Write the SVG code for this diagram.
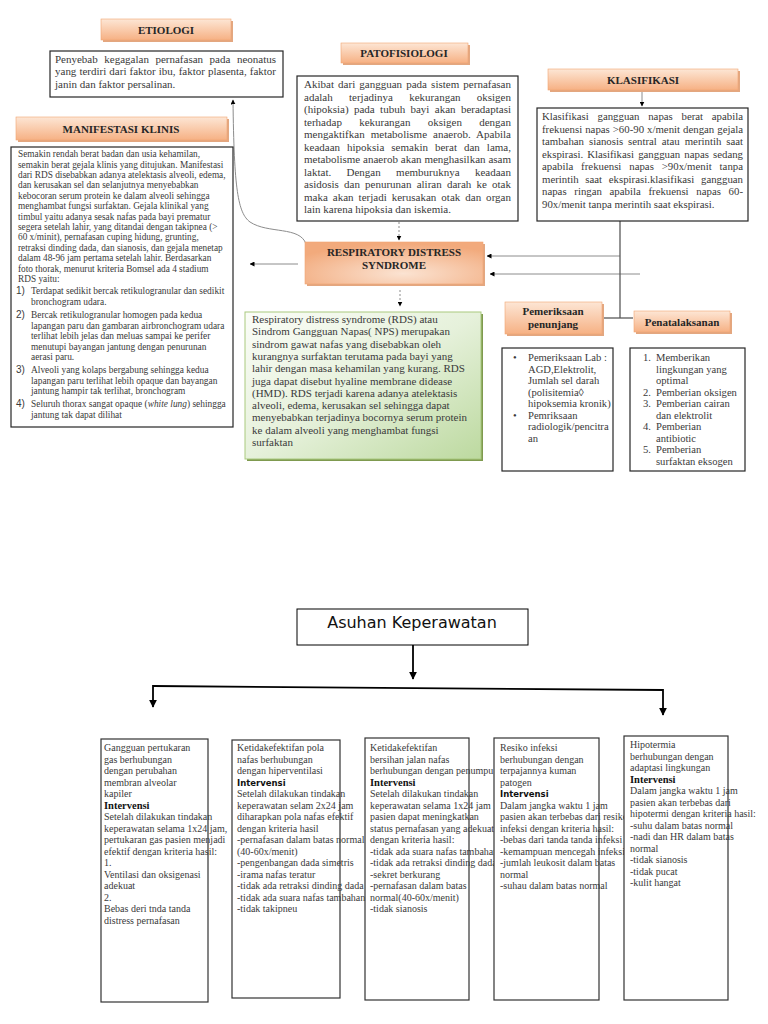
<svg xmlns="http://www.w3.org/2000/svg" width="768" height="1024" viewBox="0 0 768 1024">
<defs>
<linearGradient id="hdr" x1="0" y1="0" x2="0" y2="1">
<stop offset="0" stop-color="#fde6d5"/>
<stop offset="1" stop-color="#f6b184"/>
</linearGradient>
<radialGradient id="rds" cx="0.55" cy="0.75" r="0.7">
<stop offset="0" stop-color="#fbe3d2"/>
<stop offset="1" stop-color="#f2aa7c"/>
</radialGradient>
<linearGradient id="grn" x1="0" y1="0" x2="1" y2="1">
<stop offset="0" stop-color="#fbfdf8"/>
<stop offset="0.5" stop-color="#e6f1db"/>
<stop offset="1" stop-color="#bcd99f"/>
</linearGradient>
<clipPath id="c3"><rect x="360" y="730" width="134" height="280"/></clipPath>
<clipPath id="c4"><rect x="490" y="730" width="134" height="280"/></clipPath>
<marker id="ah" viewBox="0 0 10 10" refX="9" refY="5" markerWidth="5" markerHeight="5" markerUnits="userSpaceOnUse" orient="auto">
<path d="M0,0 L10,5 L0,10 z" fill="#000"/>
</marker>
<marker id="ah2" viewBox="0 0 10 10" refX="9" refY="5" markerWidth="8" markerHeight="8" markerUnits="userSpaceOnUse" orient="auto">
<path d="M0,0 L10,5 L0,10 z" fill="#000"/>
</marker>
<style>
.hs{fill:#d98a55;opacity:.75}
.h{fill:url(#hdr);stroke:#f0a572;stroke-width:.6}
.ht{font-family:"Liberation Serif",serif;font-weight:bold;font-size:11px;fill:#262626;text-anchor:middle}
.box{fill:#fff;stroke:#262626;stroke-width:1.2}
.t{font-family:"Liberation Serif",serif;font-size:11px;fill:#3a3a3a}
.tk{font-family:"Liberation Serif",serif;font-size:10.8px;fill:#3a3a3a}
.tp{font-family:"Liberation Serif",serif;font-size:10.6px;fill:#3a3a3a}
.ts{font-family:"Liberation Serif",serif;font-size:9.3px;fill:#3a3a3a}
.tl{font-family:"Liberation Serif",serif;font-size:9.4px;fill:#3a3a3a}
.n{font-family:"Liberation Sans",sans-serif;font-size:10px;fill:#3a3a3a}
.g{fill:none;stroke:#8c8c8c;stroke-width:1}
.gd{fill:none;stroke:#8c8c8c;stroke-width:1;stroke-dasharray:2 2}
.k{fill:none;stroke:#000;stroke-width:1.8}
.bt{font-family:"Liberation Serif",serif;font-size:10px;fill:#3a3a3a}
.bb{font-family:"Liberation Serif",serif;font-size:10.5px;font-weight:bold;fill:#111}
.bsb{font-family:"DejaVu Sans",sans-serif;font-size:8.5px;font-weight:bold;fill:#111}
.bbox{fill:#fff;stroke:#333;stroke-width:1.2}
</style>
</defs>
<rect width="768" height="1024" fill="#fff"/>

<g id="connectors">
<path class="g" d="M306,244 C300,226 268,234 250,222 C238,213 234,190 233,100" marker-end="url(#ah)"/>
<line class="gd" x1="399" y1="222" x2="399" y2="240" marker-end="url(#ah)"/>
<line class="gd" x1="400" y1="290" x2="400" y2="306" marker-end="url(#ah)"/>
<line class="g" x1="298" y1="264" x2="250" y2="264" marker-end="url(#ah)"/>
<line class="g" x1="620" y1="256" x2="487" y2="256" marker-end="url(#ah)"/>
<line class="g" x1="640" y1="274" x2="490" y2="274" marker-end="url(#ah)"/>
<line class="g" x1="642" y1="92" x2="642" y2="106" marker-end="url(#ah)"/>
<line x1="620" y1="221" x2="620" y2="318" stroke="#595959" stroke-width="1.3"/>
<line x1="604" y1="318" x2="633" y2="318" stroke="#595959" stroke-width="1.3"/>
<line class="k" x1="413" y1="645" x2="413" y2="679" marker-end="url(#ah2)"/>
<polyline class="k" points="153,686 663,690"/>
<line class="k" x1="153" y1="685" x2="153" y2="707" marker-end="url(#ah2)"/>
<line class="k" x1="663" y1="689" x2="663" y2="715" marker-end="url(#ah2)"/>
</g>

<g id="etiologi-header">
<rect class="hs" x="103" y="21" width="130" height="21"/>
<rect class="h" x="101" y="19" width="130" height="21"/>
<text class="ht" x="166" y="34">ETIOLOGI</text>
</g>
<g id="etiologi">
<rect class="box" x="50" y="51" width="233" height="46"/>
<text class="t" x="55" y="63" word-spacing="3.8" textLength="221" lengthAdjust="spacing">Penyebab kegagalan pernafasan pada neonatus</text>
<text class="t" x="55" y="75" word-spacing="0.3" textLength="221" lengthAdjust="spacing">yang terdiri dari faktor ibu, faktor plasenta, faktor</text>
<text class="t" x="55" y="87.5">janin dan faktor persalinan.</text>
</g>

<g id="manifestasi-header">
<rect class="hs" x="18" y="119" width="211" height="23"/>
<rect class="h" x="16" y="117" width="211" height="23"/>
<text class="ht" x="121" y="133">MANIFESTASI KLINIS</text>
</g>
<g id="manifestasi">
<rect class="box" x="11" y="147" width="222" height="280"/>
<text class="ts" x="18" y="157">Semakin rendah berat badan dan usia kehamilan,</text>
<text class="ts" x="18" y="167.5">semakin berat gejala klinis yang ditujukan. Manifestasi</text>
<text class="ts" x="18" y="178">dari RDS disebabkan adanya atelektasis alveoli, edema,</text>
<text class="ts" x="18" y="188.4">dan kerusakan sel dan selanjutnya menyebabkan</text>
<text class="ts" x="18" y="198.8">kebocoran serum protein ke dalam alveoli sehingga</text>
<text class="ts" x="18" y="209.2">menghambat fungsi surfaktan. Gejala klinikal yang</text>
<text class="ts" x="18" y="219.6">timbul yaitu adanya sesak nafas pada bayi prematur</text>
<text class="ts" x="18" y="230">segera setelah lahir, yang ditandai dengan takipnea (&gt;</text>
<text class="ts" x="18" y="240.4">60 x/minit), pernafasan cuping hidung, grunting,</text>
<text class="ts" x="18" y="250.8">retraksi dinding dada, dan sianosis, dan gejala menetap</text>
<text class="ts" x="18" y="261.2">dalam 48-96 jam pertama setelah lahir. Berdasarkan</text>
<text class="ts" x="18" y="271.6">foto thorak, menurut kriteria Bomsel ada 4 stadium</text>
<text class="ts" x="18" y="282">RDS yaitu:</text>
<text class="n" x="16" y="294">1)</text>
<text class="tl" x="31" y="294">Terdapat sedikit bercak retikulogranular dan sedikit</text>
<text class="tl" x="31" y="304.5">bronchogram udara.</text>
<text class="n" x="16" y="318">2)</text>
<text class="tl" x="31" y="318">Bercak retikulogranular homogen pada kedua</text>
<text class="tl" x="31" y="328.5">lapangan paru dan gambaran airbronchogram udara</text>
<text class="tl" x="31" y="339">terlihat lebih jelas dan meluas sampai ke perifer</text>
<text class="tl" x="31" y="349.5">menutupi bayangan jantung dengan penurunan</text>
<text class="tl" x="31" y="360">aerasi paru.</text>
<text class="n" x="16" y="373">3)</text>
<text class="tl" x="31" y="373">Alveoli yang kolaps bergabung sehingga kedua</text>
<text class="tl" x="31" y="383.5">lapangan paru terlihat lebih opaque dan bayangan</text>
<text class="tl" x="31" y="394">jantung hampir tak terlihat, bronchogram</text>
<text class="n" x="16" y="407">4)</text>
<text class="tl" x="31" y="407">Seluruh thorax sangat opaque (<tspan font-style="italic">white lung</tspan>) sehingga</text>
<text class="tl" x="31" y="417.5">jantung tak dapat dilihat</text>
</g>

<g id="patofisiologi-header">
<rect class="hs" x="343" y="45" width="127" height="20"/>
<rect class="h" x="341" y="43" width="127" height="20"/>
<text class="ht" x="404" y="57">PATOFISIOLOGI</text>
</g>
<g id="patofisiologi">
<rect class="box" x="297" y="76" width="221" height="145"/>
<text class="t" x="304" y="88" word-spacing="1.38" textLength="207" lengthAdjust="spacing">Akibat dari gangguan pada sistem pernafasan</text>
<text class="t" x="304" y="100.5" word-spacing="13.5" textLength="207" lengthAdjust="spacing">adalah terjadinya kekurangan oksigen</text>
<text class="t" x="304" y="113" word-spacing="2.6" textLength="207" lengthAdjust="spacing">(hipoksia) pada tubuh bayi akan beradaptasi</text>
<text class="t" x="304" y="125.5" word-spacing="14.5" textLength="207" lengthAdjust="spacing">terhadap kekurangan oksigen dengan</text>
<text class="t" x="304" y="138" word-spacing="3.2" textLength="207" lengthAdjust="spacing">mengaktifkan metabolisme anaerob. Apabila</text>
<text class="t" x="304" y="150.5" word-spacing="4.25" textLength="207" lengthAdjust="spacing">keadaan hipoksia semakin berat dan lama,</text>
<text class="t" x="304" y="163" word-spacing="0.12" textLength="207" lengthAdjust="spacing">metabolisme anaerob akan menghasilkan asam</text>
<text class="t" x="304" y="175.5" word-spacing="12.6" textLength="207" lengthAdjust="spacing">laktat. Dengan memburuknya keadaan</text>
<text class="t" x="304" y="188" word-spacing="2.4" textLength="207" lengthAdjust="spacing">asidosis dan penurunan aliran darah ke otak</text>
<text class="t" x="304" y="200.5" word-spacing="2.2" textLength="207" lengthAdjust="spacing">maka akan terjadi kerusakan otak dan organ</text>
<text class="t" x="304" y="213">lain karena hipoksia dan iskemia.</text>
</g>

<g id="klasifikasi-header">
<rect class="hs" x="550" y="71" width="190" height="21"/>
<rect class="h" x="548" y="69" width="190" height="21"/>
<text class="ht" x="643" y="84">KLASIFIKASI</text>
</g>
<g id="klasifikasi">
<rect class="box" x="537" y="108" width="211" height="113"/>
<text class="tk" x="542" y="120" word-spacing="6.0" textLength="201" lengthAdjust="spacing">Klasifikasi gangguan napas berat apabila</text>
<text class="tk" x="542" y="132.5" word-spacing="0.29" textLength="201" lengthAdjust="spacing">frekuensi napas &gt;60-90 x/menit dengan gejala</text>
<text class="tk" x="542" y="145" word-spacing="2.2" textLength="201" lengthAdjust="spacing">tambahan  sianosis sentral atau merintih saat</text>
<text class="tk" x="542" y="157.5" word-spacing="1.43" textLength="201" lengthAdjust="spacing">ekspirasi. Klasifikasi gangguan napas sedang</text>
<text class="tk" x="542" y="170" word-spacing="5.2" textLength="201" lengthAdjust="spacing">apabila frekuensi napas &gt;90x/menit tanpa</text>
<text class="tk" x="542" y="182.5" word-spacing="4.0" textLength="201" lengthAdjust="spacing">merintih saat ekspirasi.klasifikasi gangguan</text>
<text class="tk" x="542" y="195" word-spacing="5.0" textLength="201" lengthAdjust="spacing">napas  ringan apabila frekuensi napas 60-</text>
<text class="tk" x="542" y="207.5">90x/menit tanpa merintih saat ekspirasi.</text>
</g>

<g id="rds-header">
<rect class="hs" x="307" y="244" width="178" height="42"/>
<rect x="305" y="242" width="178" height="42" fill="url(#rds)" stroke="#f0a572" stroke-width=".6"/>
<text class="ht" x="394" y="256">RESPIRATORY DISTRESS</text>
<text class="ht" x="394" y="269">SYNDROME</text>
</g>

<g id="rds-definisi">
<rect x="247" y="314" width="236" height="147" fill="#7f9a4f"/>
<rect x="245" y="312" width="236" height="147" fill="url(#grn)" stroke="#a9c97e" stroke-width="1"/>
<text class="t" x="252" y="323" font-size="11.3">Respiratory distress syndrome (RDS) atau</text>
<text class="t" x="252" y="335.3" font-size="11.3">Sindrom Gangguan Napas( NPS) merupakan</text>
<text class="t" x="252" y="347.6" font-size="11.3">sindrom gawat nafas yang disebabkan oleh</text>
<text class="t" x="252" y="359.9" font-size="11.3">kurangnya surfaktan terutama pada bayi yang</text>
<text class="t" x="252" y="372.2" font-size="11.3">lahir dengan masa kehamilan yang kurang. RDS</text>
<text class="t" x="252" y="384.5" font-size="11.3">juga dapat disebut hyaline membrane didease</text>
<text class="t" x="252" y="396.8" font-size="11.3">(HMD). RDS terjadi karena adanya atelektasis</text>
<text class="t" x="252" y="409.1" font-size="11.3">alveoli, edema, kerusakan sel sehingga dapat</text>
<text class="t" x="252" y="421.4" font-size="11.3">menyebabkan terjadinya bocornya serum protein</text>
<text class="t" x="252" y="433.7" font-size="11.3">ke dalam alveoli yang menghambat fungsi</text>
<text class="t" x="252" y="446" font-size="11.3">surfaktan</text>
</g>

<g id="pemeriksaan-header">
<rect class="hs" x="507" y="304" width="97" height="32"/>
<rect class="h" x="505" y="302" width="97" height="32"/>
<text class="ht" x="553" y="315">Pemeriksaan</text>
<text class="ht" x="553" y="328">penunjang</text>
</g>
<g id="pemeriksaan">
<rect class="box" x="502" y="348" width="111" height="123"/>
<text class="tp" x="513" y="361">•</text>
<text class="tp" x="528" y="361">Pemeriksaan Lab :</text>
<text class="tp" x="528" y="372.5">AGD,Elektrolit,</text>
<text class="tp" x="528" y="384">Jumlah sel darah</text>
<text class="tp" x="528" y="395.5">(polisitemia◊</text>
<text class="tp" x="528" y="407">hipoksemia kronik)</text>
<text class="tp" x="513" y="418.5">•</text>
<text class="tp" x="528" y="418.5">Pemriksaan</text>
<text class="tp" x="528" y="430">radiologik/pencitra</text>
<text class="tp" x="528" y="441.5">an</text>
</g>

<g id="penatalaksanan-header">
<rect class="hs" x="636" y="313" width="96" height="21"/>
<rect class="h" x="634" y="311" width="96" height="21"/>
<text class="ht" x="682" y="326">Penatalaksanan</text>
</g>
<g id="penatalaksanan">
<rect class="box" x="630" y="348" width="115" height="123"/>
<text class="tp" x="643" y="361">1.</text>
<text class="tp" x="656" y="361">Memberikan</text>
<text class="tp" x="656" y="372.5">lingkungan yang</text>
<text class="tp" x="656" y="384">optimal</text>
<text class="tp" x="643" y="395.5">2.</text>
<text class="tp" x="656" y="395.5">Pemberian oksigen</text>
<text class="tp" x="643" y="407">3.</text>
<text class="tp" x="656" y="407">Pemberian cairan</text>
<text class="tp" x="656" y="418.5">dan elektrolit</text>
<text class="tp" x="643" y="430">4.</text>
<text class="tp" x="656" y="430">Pemberian</text>
<text class="tp" x="656" y="441.5">antibiotic</text>
<text class="tp" x="643" y="453">5.</text>
<text class="tp" x="656" y="453">Pemberian</text>
<text class="tp" x="656" y="464.5">surfaktan eksogen</text>
</g>

<g id="asuhan-keperawatan">
<rect x="297" y="609" width="231" height="36" fill="#fff" stroke="#000" stroke-width="1"/>
<text x="412" y="628" font-family="DejaVu Sans, sans-serif" font-size="16" fill="#111" text-anchor="middle">Asuhan Keperawatan</text>
</g>

<g id="dx1">
<rect class="bbox" x="101" y="739" width="107" height="263"/>
<text class="bt" x="104" y="751" font-size="10.5">Gangguan pertukaran</text>
<text class="bt" x="104" y="762.5" font-size="10.5">gas berhubungan</text>
<text class="bt" x="104" y="774" font-size="10.5">dengan perubahan</text>
<text class="bt" x="104" y="785.5" font-size="10.5">membran alveolar</text>
<text class="bt" x="104" y="797" font-size="10.5">kapiler</text>
<text class="bb" x="104" y="808.5">Intervensi</text>
<text class="bt" x="104" y="820" font-size="10.5">Setelah dilakukan tindakan</text>
<text class="bt" x="104" y="831.5" font-size="10.5">keperawatan selama 1x24 jam,</text>
<text class="bt" x="104" y="843" font-size="10.5">pertukaran gas pasien menjadi</text>
<text class="bt" x="104" y="854.5" font-size="10.5">efektif dengan kriteria hasil:</text>
<text class="bt" x="104" y="866" font-size="10.5">1.</text>
<text class="bt" x="104" y="877.5" font-size="10.5">Ventilasi dan oksigenasi</text>
<text class="bt" x="104" y="889" font-size="10.5">adekuat</text>
<text class="bt" x="104" y="900.5" font-size="10.5">2.</text>
<text class="bt" x="104" y="912" font-size="10.5">Bebas deri tnda tanda</text>
<text class="bt" x="104" y="923.5" font-size="10.5">distress pernafasan</text>
</g>

<g id="dx2">
<rect class="bbox" x="232" y="740" width="108" height="258"/>
<text class="bt" x="237" y="751" font-size="9.6">Ketidakefektifan pola</text>
<text class="bt" x="237" y="762.5" font-size="9.6">nafas berhubungan</text>
<text class="bt" x="237" y="774" font-size="9.6">dengan hiperventilasi</text>
<text class="bsb" x="237" y="785.5">Intervensi</text>
<text class="bt" x="237" y="797" font-size="9.6">Setelah dilakukan tindakan</text>
<text class="bt" x="237" y="808.5" font-size="9.6">keperawatan selam 2x24 jam</text>
<text class="bt" x="237" y="820" font-size="9.6">diharapkan pola nafas efektif</text>
<text class="bt" x="237" y="831.5" font-size="9.6">dengan kriteria hasil</text>
<text class="bt" x="237" y="843" font-size="9.6">-pernafasan dalam batas normal</text>
<text class="bt" x="237" y="854.5" font-size="9.6">(40-60x/menit)</text>
<text class="bt" x="237" y="866" font-size="9.6">-pengenbangan dada simetris</text>
<text class="bt" x="237" y="877.5" font-size="9.6">-irama nafas teratur</text>
<text class="bt" x="237" y="889" font-size="9.6">-tidak ada retraksi dinding dada</text>
<text class="bt" x="237" y="900.5" font-size="9.6">-tidak ada suara nafas tambahan</text>
<text class="bt" x="237" y="912" font-size="9.6">-tidak takipneu</text>
</g>

<g id="dx3">
<rect class="bbox" x="365" y="738" width="104" height="262" fill-opacity="0"/>
<g clip-path="url(#c3)">
<text class="bt" x="370" y="751">Ketidakefektifan</text>
<text class="bt" x="370" y="762.5">bersihan jalan nafas</text>
<text class="bt" x="370" y="774">berhubungan dengan penumpu</text>
<text class="bb" x="370" y="785.5">Intervensi</text>
<text class="bt" x="370" y="797">Setelah dilakukan tindakan</text>
<text class="bt" x="370" y="808.5">keperawatan selama 1x24 jam</text>
<text class="bt" x="370" y="820">pasien dapat meningkatkan</text>
<text class="bt" x="370" y="831.5">status pernafasan yang adekuat</text>
<text class="bt" x="370" y="843">dengan kriteria hasil:</text>
<text class="bt" x="370" y="854.5">-tidak ada suara nafas tambahan</text>
<text class="bt" x="370" y="866">-tidak ada retraksi dinding dada</text>
<text class="bt" x="370" y="877.5">-sekret berkurang</text>
<text class="bt" x="370" y="889">-pernafasan dalam batas</text>
<text class="bt" x="370" y="900.5">normal(40-60x/menit)</text>
<text class="bt" x="370" y="912">-tidak sianosis</text>
</g>
</g>

<g id="dx4">
<rect class="bbox" x="494" y="738" width="105" height="262"/>
<g clip-path="url(#c4)">
<text class="bt" x="500" y="751">Resiko infeksi</text>
<text class="bt" x="500" y="762.5">berhubungan dengan</text>
<text class="bt" x="500" y="774">terpajannya kuman</text>
<text class="bt" x="500" y="785.5">patogen</text>
<text class="bsb" x="500" y="797">Intervensi</text>
<text class="bt" x="500" y="808.5">Dalam jangka waktu 1 jam</text>
<text class="bt" x="500" y="820">pasien akan terbebas dari resiko</text>
<text class="bt" x="500" y="831.5">infeksi dengan kriteria hasil:</text>
<text class="bt" x="500" y="843">-bebas dari tanda tanda infeksi</text>
<text class="bt" x="500" y="854.5">-kemampuan mencegah infeksi</text>
<text class="bt" x="500" y="866">-jumlah leukosit dalam batas</text>
<text class="bt" x="500" y="877.5">normal</text>
<text class="bt" x="500" y="889">-suhau dalam batas normal</text>
</g>
</g>

<g id="dx5">
<rect class="bbox" x="624" y="736" width="104" height="264"/>
<text class="bt" x="630" y="748" font-size="9.8">Hipotermia</text>
<text class="bt" x="630" y="759.5" font-size="9.8">berhubungan dengan</text>
<text class="bt" x="630" y="771" font-size="9.8">adaptasi lingkungan</text>
<text class="bb" x="630" y="782.5" font-size="10">Intervensi</text>
<text class="bt" x="630" y="794" font-size="9.8">Dalam jangka waktu 1 jam</text>
<text class="bt" x="630" y="805.5" font-size="9.8">pasien akan terbebas dari</text>
<text class="bt" x="630" y="817" font-size="9.8">hipotermi dengan kriteria hasil:</text>
<text class="bt" x="630" y="828.5" font-size="9.8">-suhu dalam batas normal</text>
<text class="bt" x="630" y="840" font-size="9.8">-nadi dan HR dalam batas</text>
<text class="bt" x="630" y="851.5" font-size="9.8">normal</text>
<text class="bt" x="630" y="863" font-size="9.8">-tidak sianosis</text>
<text class="bt" x="630" y="874.5" font-size="9.8">-tidak pucat</text>
<text class="bt" x="630" y="886" font-size="9.8">-kulit hangat</text>
</g>
</svg>
